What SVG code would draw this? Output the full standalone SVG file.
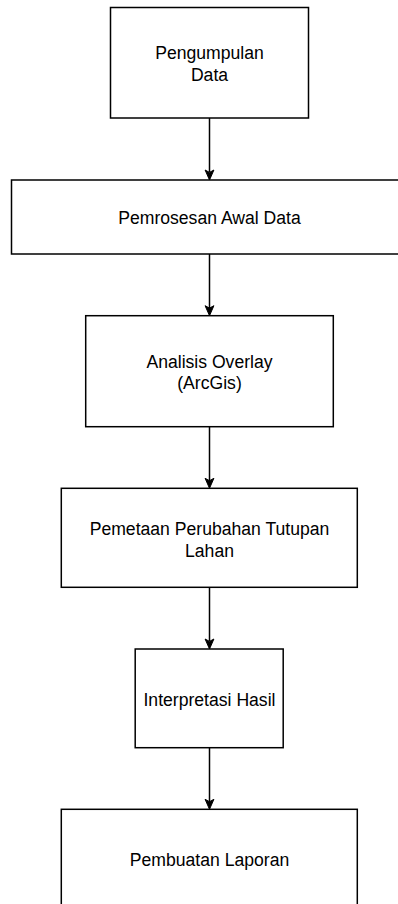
<svg xmlns="http://www.w3.org/2000/svg" width="398" height="904" viewBox="0 0 398 904">
<style>
.box{fill:#fff;stroke:#000;stroke-width:1.5}
.lbl{font-family:"Liberation Sans",Arial,sans-serif;font-size:17.6px;fill:#000;text-anchor:middle}
.edge{stroke:#000;stroke-width:1.5;fill:none}
.head{fill:#000;stroke:#000;stroke-width:1}
</style>
<defs>
<path id="ah" class="head" d="M0,0 L-4.4,-10 L0,-7.6 L4.4,-10 Z"/>
</defs>
<rect width="398" height="904" fill="#fff"/>
<g id="connectors">
<line class="edge" x1="209.5" y1="118" x2="209.5" y2="172"/>
<use href="#ah" x="209.5" y="180"/>
<line class="edge" x1="209.5" y1="254" x2="209.5" y2="308"/>
<use href="#ah" x="209.5" y="315.7"/>
<line class="edge" x1="209.5" y1="426.7" x2="209.5" y2="481"/>
<use href="#ah" x="209.5" y="488.3"/>
<line class="edge" x1="209.5" y1="587.3" x2="209.5" y2="641"/>
<use href="#ah" x="209.5" y="649"/>
<line class="edge" x1="209.5" y1="747.7" x2="209.5" y2="802"/>
<use href="#ah" x="209.5" y="809.3"/>
</g>
<g id="n1">
<rect class="box" x="110.5" y="7.5" width="198" height="110.5"/>
<text class="lbl" x="209.5" y="59.3">Pengumpulan</text>
<text class="lbl" x="209.5" y="81.2">Data</text>
</g>
<g id="n2">
<rect class="box" x="11.5" y="180" width="396" height="74"/>
<text class="lbl" x="209.5" y="224.4">Pemrosesan Awal Data</text>
</g>
<g id="n3">
<rect class="box" x="85.7" y="315.7" width="247.6" height="111"/>
<text class="lbl" x="209.5" y="367.6">Analisis Overlay</text>
<text class="lbl" x="209.5" y="389.4">(ArcGis)</text>
</g>
<g id="n4">
<rect class="box" x="61.3" y="488.3" width="296" height="99"/>
<text class="lbl" x="209.5" y="535">Pemetaan Perubahan Tutupan</text>
<text class="lbl" x="209.5" y="556.6">Lahan</text>
</g>
<g id="n5">
<rect class="box" x="135.2" y="649" width="148" height="98.7"/>
<text class="lbl" x="209.5" y="705.6">Interpretasi Hasil</text>
</g>
<g id="n6">
<rect class="box" x="61.3" y="809.3" width="296" height="99"/>
<text class="lbl" x="209.5" y="866.2">Pembuatan Laporan</text>
</g>
</svg>
